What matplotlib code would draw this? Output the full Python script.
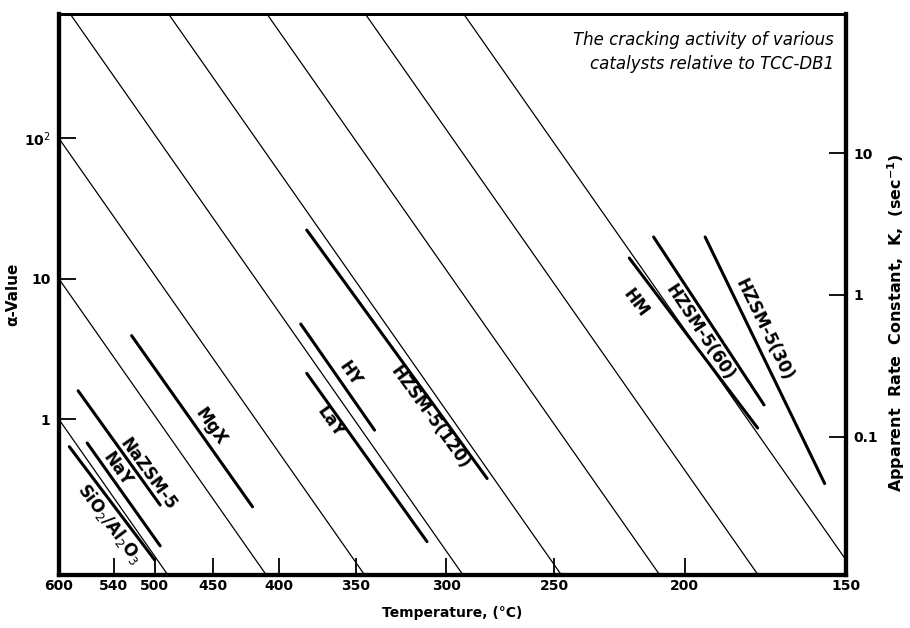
import numpy as np
import matplotlib
matplotlib.use("Agg")
import matplotlib.pyplot as plt

# ---------------- data ----------------
temp_ticks = [600, 540, 500, 450, 400, 350, 300, 250, 200, 150]
alpha_ticks = [1, 10, 100]
alpha_tick_labels = ["1", "10", "10$^2$"]
k_ticks = [0.1, 1, 10]
k_tick_labels = ["0.1", "1", "10"]

# thin reference lines: alpha at 600 C and at 150 C
guide_alpha_600 = [1, 10, 1e2, 1e3, 1e4, 1e5, 1e6, 1e7]
guide_alpha_150 = [1e-8, 1e-7, 1e-6, 1e-5, 1e-4, 1e-3, 1e-2, 1e-1]

catalysts = ["SiO$_2$/Al$_2$O$_3$", "NaY", "NaZSM-5", "MgX", "HY", "LaY",
             "HZSM-5(120)", "HM", "HZSM-5(60)", "HZSM-5(30)"]
temp_high = [588, 568, 578, 522, 385, 381, 381, 220, 211, 193]
alpha_high = [0.64, 0.68, 1.60, 3.95, 4.78, 2.13, 22.3, 14.1, 19.9, 19.9]
temp_low = [500, 495, 495, 419, 339, 310, 280, 176, 174, 156]
alpha_low = [0.10, 0.126, 0.246, 0.239, 0.84, 0.135, 0.38, 0.87, 1.27, 0.35]

# label layout (fraction along line, perpendicular offset in px)
label_frac = [0.61, 0.31, 0.77, 0.57, 0.53, 0.26, 0.73, 0.19, 0.52, 0.40]
label_off = [-14, 9, 8, 12, 12, -9, -10, -22, -14, 12]


def inv_t(t):
    return 1.0 / (np.asarray(t, dtype=float) + 273.15)


fig = plt.figure(figsize=(9.1, 6.28), dpi=100)
ax = fig.add_axes([59 / 910, 1 - 575 / 628, 787 / 910, 561 / 628])
ax.set_yscale("log")
ax.set_xlim(inv_t(600), inv_t(150))
ax.set_ylim(10 ** -1.107, 10 ** 2.886)

# guide lines
for a1, a2 in zip(guide_alpha_600, guide_alpha_150):
    ax.plot(inv_t([600, 150]), [a1, a2], color="black", lw=0.9,
            solid_capstyle="butt")

# catalyst lines
for th, ah, tl, al in zip(temp_high, alpha_high, temp_low, alpha_low):
    ax.plot(inv_t([th, tl]), [ah, al], color="black", lw=2.2,
            solid_capstyle="round")

fig.canvas.draw()
inv = ax.transData.inverted()
for name, th, ah, tl, al, fr, off in zip(catalysts, temp_high, alpha_high,
                                         temp_low, alpha_low, label_frac,
                                         label_off):
    p1, p2 = ax.transData.transform([[inv_t(th), ah], [inv_t(tl), al]])
    d = p2 - p1
    d = d / np.hypot(*d)
    n = np.array([-d[1], d[0]])
    pt = p1 + fr * (p2 - p1) + off * n
    ang = np.degrees(np.arctan2(d[1], d[0]))
    xd, yd = inv.transform(pt)
    ax.text(xd, yd, name, rotation=ang, rotation_mode="anchor",
            ha="center", va="center", fontsize=12, fontweight="bold")

# axes styling
ax.set_xticks(inv_t(temp_ticks))
ax.set_xticklabels([str(t) for t in temp_ticks], fontsize=10,
                   fontweight="bold")
ax.set_yticks(alpha_ticks)
ax.set_yticklabels(alpha_tick_labels, fontsize=10, fontweight="bold")
ax.minorticks_off()
ax.tick_params(axis="both", direction="in", length=12, width=1.3, pad=6)
ax.tick_params(axis="x", pad=3)

ax2 = ax.twinx()
ax2.set_yscale("log")
ax2.set_ylim(10 ** -1.972, 10 ** 1.979)
ax2.set_yticks(k_ticks)
ax2.set_yticklabels(k_tick_labels, fontsize=10, fontweight="bold")
ax2.minorticks_off()
ax2.tick_params(axis="y", direction="in", length=12, width=1.3, pad=5)

for a in (ax, ax2):
    for side in ("left", "bottom", "right"):
        a.spines[side].set_linewidth(3)
    a.spines["top"].set_linewidth(2)

ax.set_xlabel("Temperature, (°C)", fontsize=10, fontweight="bold",
              labelpad=9)
ax.set_ylabel("α-Value", fontsize=11, fontweight="bold", labelpad=3)
ax2.set_ylabel("Apparent  Rate  Constant,  K,  (sec$^{\\mathbf{-1}}$)",
               fontsize=11.5, fontweight="bold")
ax2.yaxis.set_label_coords(1.050, 0.45)

ax.text(0.985, 0.97, "The cracking activity of various\n"
        "catalysts relative to TCC-DB1", transform=ax.transAxes,
        ha="right", va="top", fontsize=12, style="italic",
        linespacing=1.45)

fig.savefig("out.png", dpi=100)
